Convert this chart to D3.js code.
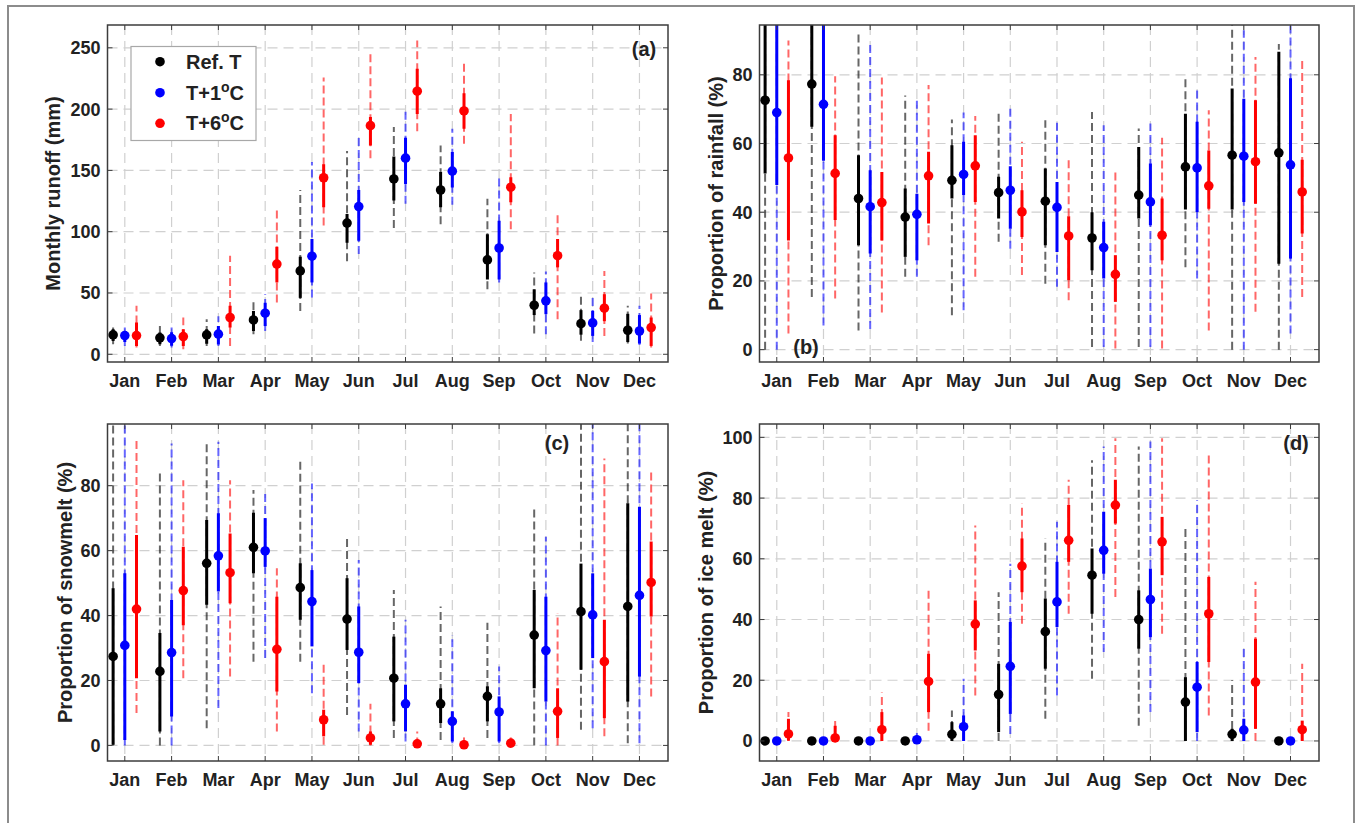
<!DOCTYPE html>
<html>
<head>
<meta charset="utf-8">
<script src="https://cdn.jsdelivr.net/npm/d3@7"></script>
<style>
  body { margin: 0; background: #fff; }
  svg { display: block; font-family: "Liberation Sans", Arial, sans-serif; }
</style>
</head>
<body>
<svg id="chart" width="1360" height="823"></svg>
<script>
// months on the x axis
const months = ["Jan","Feb","Mar","Apr","May","Jun","Jul","Aug","Sep","Oct","Nov","Dec"];
const seriesNames = ["Ref. T", "T+1", "T+6"];
const seriesColors = ["#000000", "#0000ff", "#ff0000"];

// each row: [median, inner low, inner high, outer low, outer high]
// (a) monthly runoff (mm)
const runoffRef = [
  [15.8, 10.9, 20.4, 8.2, 21.8], [13.4, 8.2, 17.7, 6.8, 23], [15.8, 8.5, 20.4, 6.8, 28.6],
  [28, 19, 35.4, 16.4, 42.8], [68, 46, 79.6, 35.4, 134], [107, 91, 114.5, 75.8, 165.8],
  [143, 125.4, 161.4, 103, 185.4], [134, 120, 148.6, 106, 170.4], [77, 61, 98, 53, 126.8],
  [40, 32, 53, 17, 66.8], [25, 16, 36, 11, 49], [19.6, 10, 33, 8.7, 39.5]
];
const runoffP1 = [
  [15.3, 10, 19, 6.8, 21.8], [12.8, 7, 18, 5.5, 24], [16.4, 8, 23, 6.8, 31],
  [33.5, 23, 42, 19, 49], [80, 58.6, 94, 46.3, 156.8], [120.5, 92.7, 134, 81.8, 178.6],
  [160, 139, 176.7, 122.7, 200.4], [149.4, 136, 165, 122, 184], [86.7, 61, 109, 58.6, 144.5],
  [43.6, 32.7, 58.6, 16.4, 67.6], [25.6, 15, 35.4, 10, 49], [19, 8.7, 32, 7.6, 39.5]
];
const runoffP6 = [
  [15.3, 6.8, 26, 5.5, 39.5], [14.4, 6.8, 20.4, 4, 30], [30, 21.8, 39.5, 6.8, 80.4],
  [73.6, 58.6, 87.8, 42.3, 119.4], [144, 120, 155, 105, 225.7], [186.5, 170.4, 193.6, 160, 245],
  [214.6, 196, 233, 182, 256], [198.5, 184, 213, 171.8, 238.5], [136.3, 124, 144.5, 102, 196],
  [80.4, 70.9, 94, 28.6, 116.7], [37.6, 27, 49, 15, 68], [21.8, 6.8, 30, 5.5, 49.6]
];

// (b) proportion of rainfall (%)
const rainRef = [
  [72.6, 51.3, 100, 0, 100], [77.3, 64.9, 100, 15.3, 100], [44, 30.4, 56.6, 5.6, 92.8],
  [38.6, 27, 46.9, 21.2, 74], [49.3, 44, 59.5, 10, 67], [45.7, 38.2, 50.3, 31.4, 69],
  [43.2, 30.4, 52.7, 19.2, 66.8], [32.5, 23.1, 40, 0.8, 69.2], [45, 38.2, 59, 0.8, 64.4],
  [53.2, 40.8, 68.7, 24, 79], [56.6, 40.8, 76, 0, 100], [57.3, 25, 86.7, 0, 89]
];
const rainP1 = [
  [69, 47.9, 100, 0, 100], [71.4, 55, 100, 7, 100], [41.6, 28, 52.2, 6, 89],
  [39.4, 26, 45.4, 21.2, 73], [51, 45, 60.5, 11.5, 69], [46.4, 35.2, 53.4, 29.4, 71.2],
  [41.4, 28.4, 48.8, 18.3, 66.3], [29.7, 20.7, 37.2, 0.8, 65.3], [43, 36.2, 54.2, 0.8, 65.8],
  [52.9, 40.1, 66.3, 20.7, 76.5], [56.3, 43, 73, 0, 93], [53.8, 26.5, 79, 4.7, 100]
];
const rainP6 = [
  [55.8, 31.8, 78.4, 4.7, 90], [51.3, 37.7, 62.4, 14.9, 79.6], [42.8, 31.8, 51.7, 10.8, 79.2],
  [50.6, 36.7, 57.6, 30.4, 77], [53.5, 43, 62.4, 21.2, 68], [40.1, 32.8, 46.4, 21.7, 60.5],
  [33.1, 20.2, 38.8, 14.4, 55.6], [21.9, 13.9, 27.5, 0.3, 52.7], [33.3, 26, 44, 0.3, 61.7],
  [47.7, 41, 58, 5.6, 69.7], [54.7, 42.5, 72.6, 11, 85.2], [45.9, 33.8, 55.3, 15.3, 85]
];

// (c) proportion of snowmelt (%)
const snowRef = [
  [27.4, 0.2, 48.4, 0, 100], [22.8, 4.3, 34.6, 0, 84.3], [56.1, 43.3, 69.4, 5.3, 94],
  [61, 53, 71.7, 25.8, 78.7], [48.6, 38.7, 56.1, 25.8, 87.9], [38.9, 29.4, 51.5, 9.4, 64.3],
  [20.7, 7.4, 33.5, 2.3, 47.9], [12.8, 6.9, 17.6, 1.7, 42.8], [15.1, 7.4, 18.2, 2.3, 37.8],
  [34, 17.6, 47.9, 0, 73.5], [41.2, 23.3, 56, 4.8, 100], [42.8, 13.5, 74.6, 0.7, 100]
];
const snowP1 = [
  [30.8, 1.7, 53, 0, 100], [28.6, 8.9, 44.8, 0, 93], [58.4, 47.4, 71.5, 11.5, 93.5],
  [59.9, 55, 70, 26.9, 78.7], [44.3, 30.5, 54, 16.1, 80.7], [28.7, 19.2, 42.8, 4.3, 57.1],
  [12.8, 4.3, 18.7, 1.2, 38.7], [7.4, 1.2, 10.5, 0.7, 34], [10.3, 1.2, 15.1, 0.7, 24.3],
  [29.2, 13.5, 45.8, 0, 64.3], [40.2, 26.9, 53, 5.3, 100], [46.2, 21.2, 73.5, 0.7, 100]
];
const snowP6 = [
  [42, 20.7, 64.8, 10, 94.3], [47.7, 37, 61.2, 20.7, 81.7], [53.2, 43.8, 65.3, 21.2, 81.7],
  [29.6, 16.6, 45.8, 4.3, 54.6], [7.9, 2.8, 11, 0.2, 25.3], [2.3, 0.2, 4.3, 0, 12.8],
  [0.5, 0, 1.5, 0, 4.3], [0.2, 0, 0.8, 0, 2.8], [0.7, 0, 1.5, 0, 3],
  [10.5, 2.3, 17.6, 0, 40.7], [25.8, 8.4, 38.7, 2.8, 88.4], [50.2, 39.7, 62.8, 15.1, 84.3]
];

// (d) proportion of ice melt (%)
const iceRef = [
  [0, 0, 0.3, 0, 0.5], [0, 0, 0.3, 0, 0.5], [0, 0, 0.3, 0, 0.5],
  [0, 0, 0.3, 0, 0.5], [2.2, 0, 6.2, 0, 10], [15.3, 2.9, 25.4, 0, 49],
  [36, 23.8, 46.9, 7.3, 66.7], [54.6, 41.9, 63.4, 20.5, 92.5], [40, 30.4, 49.6, 5, 97],
  [12.8, 0, 21, 0, 70.5], [2.2, 0, 4, 0, 20], [0, 0, 0.3, 0, 0.5]
];
const iceP1 = [
  [0, 0, 0.3, 0, 0.5], [0, 0, 0.3, 0, 0.5], [0, 0, 0.3, 0, 0.5],
  [0.4, 0, 1.5, 0, 2.9], [4.7, 0, 8.4, 0, 20.5], [24.6, 8.9, 39.2, 2.3, 58.4],
  [45.8, 37.5, 59, 15, 72.2], [62.8, 55.1, 75.5, 29.3, 97], [46.6, 34.2, 56.8, 9.5, 98.6],
  [17.7, 2.9, 26, 0, 79.3], [3.6, 0, 7.3, 0, 30.4], [0, 0, 0.3, 0, 0.5]
];
const iceP6 = [
  [2.3, 0.1, 7.3, 0, 9.5], [1, 0, 5, 0, 6.9], [3.7, 0, 9.5, 0, 16],
  [19.6, 9.5, 28.7, 3.4, 49.6], [38.5, 29.8, 46.3, 15, 71], [57.6, 49, 66.7, 38.6, 78.2],
  [66.1, 59, 77.7, 41.9, 86], [77.7, 71.6, 86, 47.4, 99.7], [65.6, 54.6, 73.8, 35.3, 99.7],
  [41.9, 26, 54, 8.4, 94.2], [19.4, 4, 33.7, 0, 52.4], [3.7, 0, 6.7, 0, 25.4]
];

const yTicksRunoff = [0, 50, 100, 150, 200, 250];
const yTicksPct = [0, 20, 40, 60, 80];
const yTicksIce = [0, 20, 40, 60, 80, 100];

const panels = [
  {id: "a", box: [107.5, 25, 668, 362], ydom: [-6.3, 268.6], ticks: yTicksRunoff,
   label: "Monthly runoff (mm)", labX: 53, tag: [644, 49], data: [runoffRef, runoffP1, runoffP6], legend: true},
  {id: "b", box: [759.5, 25, 1319, 362], ydom: [-3.6, 94.5], ticks: yTicksPct,
   label: "Proportion of rainfall (%)", labX: 716, tag: [806, 347], data: [rainRef, rainP1, rainP6]},
  {id: "c", box: [107.5, 424, 668, 761], ydom: [-4.8, 99], ticks: yTicksPct,
   label: "Proportion of snowmelt (%)", labX: 65, tag: [557, 443], data: [snowRef, snowP1, snowP6]},
  {id: "d", box: [759.5, 424, 1319, 761], ydom: [-6.6, 104.4], ticks: yTicksIce,
   label: "Proportion of ice melt (%)", labX: 706, tag: [1296, 443], data: [iceRef, iceP1, iceP6]}
];

const svg = d3.select("#chart");
const textCol = "#222";

// light frame round the whole figure
svg.append("rect").attr("x", 8).attr("y", 6).attr("width", 1346).attr("height", 840)
  .attr("fill", "none").attr("stroke", "#8c8c8c").attr("stroke-width", 2);

const offsets = [-0.25, 0, 0.25];

panels.forEach(function(p){
  let [x0, y0, x1, y1] = p.box;
  let x = d3.scaleLinear().domain([0.63, 12.61]).range([x0, x1]);
  let y = d3.scaleLinear().domain(p.ydom).range([y1, y0]);
  let g = svg.append("g");

  // grid
  g.selectAll(".vg").data(months).enter().append("line")
    .attr("x1", (d, i) => x(i + 1)).attr("x2", (d, i) => x(i + 1))
    .attr("y1", y0).attr("y2", y1)
    .attr("stroke", "#d0d0d0").attr("stroke-width", 1.2).attr("stroke-dasharray", "10,6");
  g.selectAll(".hg").data(p.ticks).enter().append("line")
    .attr("x1", x0).attr("x2", x1).attr("y1", d => y(d)).attr("y2", d => y(d))
    .attr("stroke", "#d0d0d0").attr("stroke-width", 1.2).attr("stroke-dasharray", "10,6");

  let clipId = "clip" + p.id;
  svg.append("clipPath").attr("id", clipId).append("rect")
    .attr("x", x0).attr("y", y0).attr("width", x1 - x0).attr("height", y1 - y0);
  let marks = g.append("g").attr("clip-path", "url(#" + clipId + ")");

  p.data.forEach(function(rows, s){
    let col = seriesColors[s];
    let sg = marks.append("g");
    let xs = (d, i) => x(i + 1 + offsets[s]);
    sg.selectAll(".outer").data(rows).enter().append("line")
      .attr("x1", xs).attr("x2", xs)
      .attr("y1", d => y(d[3])).attr("y2", d => y(d[4]))
      .attr("stroke", col).attr("stroke-opacity", 0.6).attr("stroke-width", 2)
      .attr("stroke-dasharray", "8,4");
    sg.selectAll(".inner").data(rows).enter().append("line")
      .attr("x1", xs).attr("x2", xs)
      .attr("y1", d => y(d[1])).attr("y2", d => y(d[2]))
      .attr("stroke", col).attr("stroke-width", 3);
    sg.selectAll("circle").data(rows).enter().append("circle")
      .attr("cx", xs).attr("cy", d => y(d[0])).attr("r", 4.8).attr("fill", col);
  });

  // axis box
  g.append("rect").attr("x", x0).attr("y", y0).attr("width", x1 - x0).attr("height", y1 - y0)
    .attr("fill", "none").attr("stroke", "#3c3c3c").attr("stroke-width", 1.5);

  // inward ticks, mirrored
  let tickLen = 5;
  months.forEach(function(m, i){
    g.append("line").attr("x1", x(i + 1)).attr("x2", x(i + 1)).attr("y1", y1).attr("y2", y1 - tickLen)
      .attr("stroke", "#3c3c3c").attr("stroke-width", 1);
    g.append("line").attr("x1", x(i + 1)).attr("x2", x(i + 1)).attr("y1", y0).attr("y2", y0 + tickLen)
      .attr("stroke", "#3c3c3c").attr("stroke-width", 1);
  });
  p.ticks.forEach(function(t){
    g.append("line").attr("x1", x0).attr("x2", x0 + tickLen).attr("y1", y(t)).attr("y2", y(t))
      .attr("stroke", "#3c3c3c").attr("stroke-width", 1);
    g.append("line").attr("x1", x1).attr("x2", x1 - tickLen).attr("y1", y(t)).attr("y2", y(t))
      .attr("stroke", "#3c3c3c").attr("stroke-width", 1);
  });

  // tick labels
  g.selectAll(".xl").data(months).enter().append("text")
    .attr("x", (d, i) => x(i + 1)).attr("y", y1 + 25)
    .attr("text-anchor", "middle").attr("font-size", 18).attr("font-weight", "bold")
    .attr("fill", textCol).text(d => d);
  g.selectAll(".yl").data(p.ticks).enter().append("text")
    .attr("x", x0 - 7).attr("y", d => y(d) + 6.5)
    .attr("text-anchor", "end").attr("font-size", 18).attr("font-weight", "bold")
    .attr("fill", textCol).text(d => d);

  // y label
  let cy = (y0 + y1) / 2;
  g.append("text").attr("transform", "translate(" + (p.labX + 7) + "," + cy + ") rotate(-90)")
    .attr("text-anchor", "middle").attr("font-size", 20).attr("font-weight", "bold")
    .attr("fill", textCol).text(p.label);

  // panel tag
  g.append("text").attr("x", p.tag[0]).attr("y", p.tag[1] + 7)
    .attr("text-anchor", "middle").attr("font-size", 20).attr("font-weight", "bold")
    .attr("fill", textCol).text("(" + p.id + ")");

  if(p.legend){
    let lg = g.append("g");
    lg.append("rect").attr("x", 131).attr("y", 46.5).attr("width", 125).attr("height", 94)
      .attr("fill", "#fff").attr("stroke", "#a8a8a8").attr("stroke-width", 1.2);
    let rowsY = [61.7, 92.7, 123.3];
    seriesNames.forEach(function(n, i){
      lg.append("circle").attr("cx", 160).attr("cy", rowsY[i]).attr("r", 4.8).attr("fill", seriesColors[i]);
      let t = lg.append("text").attr("x", 186).attr("y", rowsY[i] + 7)
        .attr("font-size", 20).attr("font-weight", "bold").attr("fill", textCol);
      if(i == 0){
        t.text(n);
      } else {
        t.append("tspan").text(n);
        t.append("tspan").attr("dy", -8).attr("font-size", 14).text("o");
        t.append("tspan").attr("dy", 8).text("C");
      }
    });
  }
});
</script>
</body>
</html>
